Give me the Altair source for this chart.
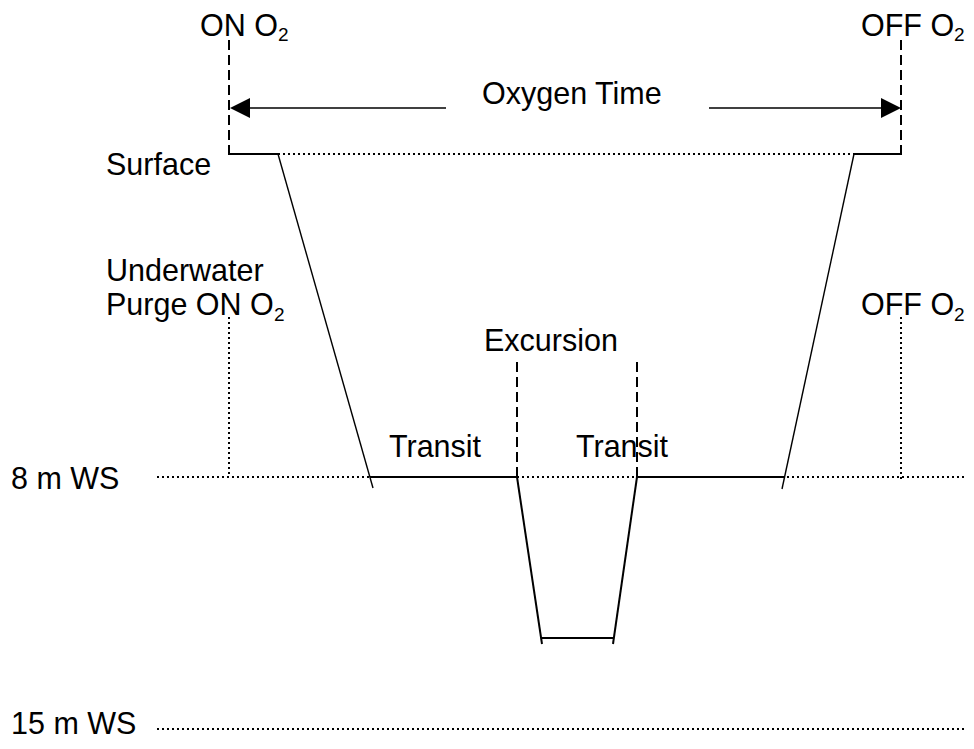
import altair as alt
import pandas as pd

# Schematic diagram units: x = time position, y = depth position (downwards)
# Solid thick profile segments (stay at a level)
thick_x  = [229, 854, 370, 637, 541]
thick_x2 = [278, 901, 517, 785, 614]
thick_y  = [154, 154, 477, 477, 638]
thick_y2 = [154, 154, 477, 477, 638]

# Thin descent / ascent to 8 m
thin_x  = [278, 782]
thin_x2 = [373, 854]
thin_y  = [154, 489]
thin_y2 = [488, 154]

# Excursion descent / ascent
exc_x  = [517, 637]
exc_x2 = [542, 613]
exc_y  = [477, 477]
exc_y2 = [644, 644]

# Dashed markers
dash_x  = [229, 901, 517, 637]
dash_y  = [40, 40, 362, 362]
dash_y2 = [159, 159, 477, 477]

# Dotted reference lines
dot_x  = [278, 157, 157, 229, 901]
dot_x2 = [854, 973, 968, 229, 901]
dot_y  = [154, 477, 729, 317, 317]
dot_y2 = [154, 477, 729, 477, 482]

# Oxygen-time arrow shafts and heads
arrow_x  = [250, 709]
arrow_x2 = [446, 881]
arrow_y  = [108, 108]
head_x = [240, 891]
head_y = [108, 108]
head_dir = ["left", "right"]

# Labels
label_text = ["ON O", "OFF O", "Oxygen Time", "Surface", "Underwater",
              "Purge ON O", "OFF O", "Excursion", "Transit", "Transit",
              "8 m WS", "15 m WS"]
label_x = [200, 861, 482, 106, 106, 106, 861, 484, 389, 576, 11, 11]
label_y = [36, 36, 104, 175, 281, 315, 315, 351, 457, 457, 489, 734]

sub_text = ["2", "2", "2", "2"]
sub_x = [278, 954, 274, 954]
sub_y = [41, 41, 321, 321]

W, H = 958, 733
xs = alt.Scale(domain=[8, 8 + W], nice=False, zero=False)
ys = alt.Scale(domain=[8, 8 + H], nice=False, zero=False, reverse=True)
FONT = "Liberation Sans"

def seg(x, x2, y, y2):
    return pd.DataFrame({"x": x, "x2": x2, "y": y, "y2": y2})

def rule(df, width, dash=None):
    kw = dict(color="black", strokeWidth=width, strokeCap="butt")
    if dash:
        kw["strokeDash"] = dash
    return alt.Chart(df).mark_rule(**kw).encode(
        x=alt.X("x:Q", scale=xs, axis=None),
        x2="x2:Q",
        y=alt.Y("y:Q", scale=ys, axis=None),
        y2="y2:Q",
    )

thick = rule(seg(thick_x, thick_x2, thick_y, thick_y2), 2.2)
thin = rule(seg(thin_x, thin_x2, thin_y, thin_y2), 1.4)
exc = rule(seg(exc_x, exc_x2, exc_y, exc_y2), 2.0)
dashed = rule(seg(dash_x, dash_x, dash_y, dash_y2), 2.0, [10, 5])
dotted = rule(seg(dot_x, dot_x2, dot_y, dot_y2), 2.0, [2, 3])
arrows = rule(seg(arrow_x, arrow_x2, arrow_y, arrow_y), 1.6)

heads_df = pd.DataFrame({"x": head_x, "y": head_y, "dir": head_dir})
heads = alt.Chart(heads_df).mark_point(
    filled=True, color="black", opacity=1, size=400
).encode(
    x=alt.X("x:Q", scale=xs, axis=None),
    y=alt.Y("y:Q", scale=ys, axis=None),
    shape=alt.Shape("dir:N", scale=alt.Scale(
        domain=["left", "right"],
        range=["M-1,0L1,-1L1,1Z", "M1,0L-1,-1L-1,1Z"]), legend=None),
)

labels = alt.Chart(pd.DataFrame({"t": label_text, "x": label_x, "y": label_y})).mark_text(
    font=FONT, fontSize=30.5, align="left", baseline="alphabetic", color="black"
).encode(
    x=alt.X("x:Q", scale=xs, axis=None),
    y=alt.Y("y:Q", scale=ys, axis=None),
    text="t:N",
)

subs = alt.Chart(pd.DataFrame({"t": sub_text, "x": sub_x, "y": sub_y})).mark_text(
    font=FONT, fontSize=19, align="left", baseline="alphabetic", color="black"
).encode(
    x=alt.X("x:Q", scale=xs, axis=None),
    y=alt.Y("y:Q", scale=ys, axis=None),
    text="t:N",
)

chart = alt.layer(dotted, dashed, thin, exc, thick, arrows, heads, labels, subs).properties(
    width=W, height=H, padding=0, autosize=alt.AutoSizeParams(type="none"), background="white"
).configure_view(stroke=None)

chart.save("out.html", embed_options={"renderer": "svg", "actions": False})
